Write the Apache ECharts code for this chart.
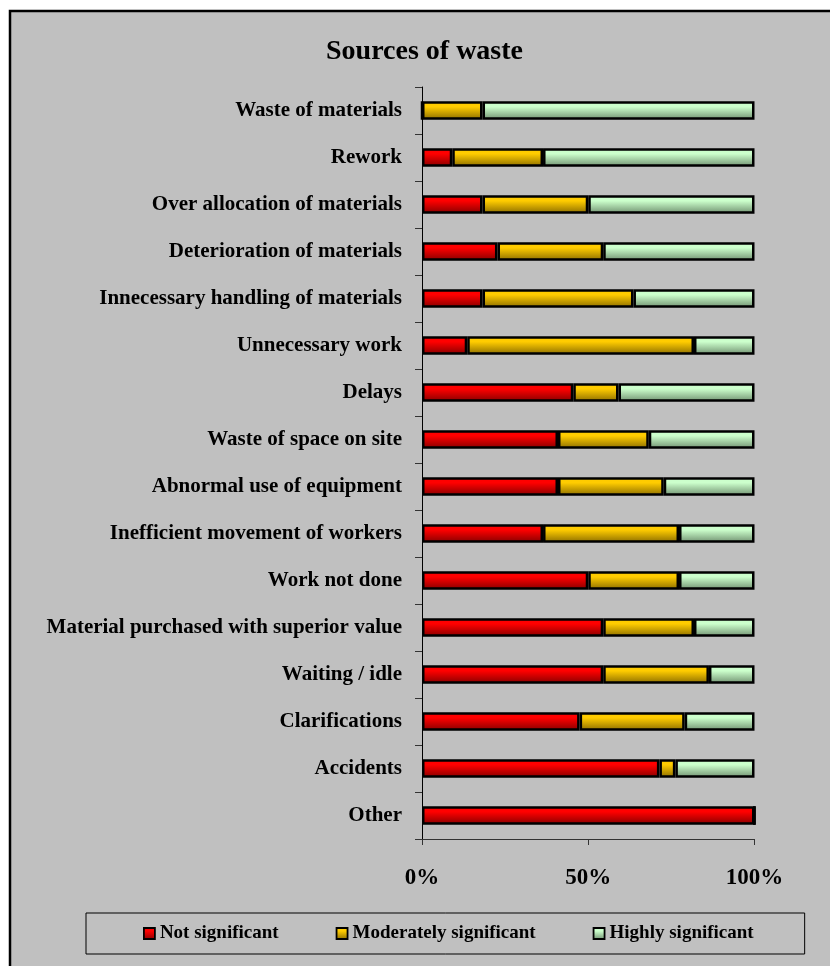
<!DOCTYPE html>
<html>
<head>
<meta charset="utf-8">
<title>Sources of waste</title>
<script src="https://cdn.jsdelivr.net/npm/echarts@6/dist/echarts.min.js"></script>
<style>
  html, body { margin: 0; padding: 0; background: #ffffff; }
  #chart { width: 830px; height: 966px; }
</style>
</head>
<body>
<div id="chart"></div>
<script>
// Sources of waste, share of responses per significance level (%)
const categories = [
  'Waste of materials',
  'Rework',
  'Over allocation of materials',
  'Deterioration of materials',
  'Innecessary handling of materials',
  'Unnecessary work',
  'Delays',
  'Waste of space on site',
  'Abnormal use of equipment',
  'Inefficient movement of workers',
  'Work not done',
  'Material purchased with superior value',
  'Waiting / idle',
  'Clarifications',
  'Accidents',
  'Other'
];
const notSignificant =        [0,    9.1, 18.2, 22.7, 18.2, 13.6, 45.5, 40.9, 40.9, 36.4, 50,   54.5, 54.5, 47.4, 71.4, 100];
const moderatelySignificant = [18.2, 27.3, 31.8, 31.8, 45.4, 68.2, 13.6, 27.3, 31.8, 40.9, 27.3, 27.3, 31.8, 31.6, 4.8,  0];
const highlySignificant =     [81.8, 63.6, 50,   45.5, 36.4, 18.2, 40.9, 31.8, 27.3, 22.7, 22.7, 18.2, 13.7, 21.0, 23.8, 0];
const seriesNames = ['Not significant', 'Moderately significant', 'Highly significant'];
const axisTicks = [0, 50, 100];

const FONT = "'Liberation Serif', 'Times New Roman', serif";

function shade(top, bottom) {
  return new echarts.graphic.LinearGradient(0, 0, 0, 1, [
    { offset: 0, color: top },
    { offset: 0.3, color: top },
    { offset: 1, color: bottom }
  ]);
}

const fills = [
  shade('#ff0000', '#850000'),
  shade('#ffcc00', '#8a6c00'),
  shade('#ccffcc', '#6f8f6f')
];

const values = [notSignificant, moderatelySignificant, highlySignificant];

const chart = echarts.init(document.getElementById('chart'), null, { renderer: 'canvas' });

chart.setOption({
  animation: false,
  backgroundColor: '#ffffff',
  graphic: [{
    type: 'rect',
    z: -10,
    silent: true,
    shape: { x: 10, y: 11, width: 840, height: 980 },
    style: { fill: '#c0c0c0', stroke: '#000000', lineWidth: 2.5 }
  }],
  title: {
    text: 'Sources of waste',
    left: 326,
    top: 38,
    padding: 0,
    textStyle: { fontFamily: FONT, fontSize: 28, fontWeight: 'bold', color: '#000' }
  },
  legend: {
    data: seriesNames,
    left: 86,
    top: 913,
    orient: 'horizontal',
    padding: [11, 51, 11, 57],
    itemGap: 57,
    itemWidth: 11,
    itemHeight: 11,
    borderColor: '#000',
    borderWidth: 1,
    backgroundColor: 'transparent',
    icon: 'rect',
    itemStyle: { borderColor: '#000', borderWidth: 1.8 },
    textStyle: { fontFamily: FONT, fontSize: 19, fontWeight: 'bold', color: '#000', lineHeight: 19 }
  },
  grid: { left: 422, right: 75.5, top: 87, bottom: 127, containLabel: false },
  xAxis: {
    type: 'value',
    min: axisTicks[0],
    max: axisTicks[axisTicks.length - 1],
    interval: axisTicks[1] - axisTicks[0],
    axisLine: { show: true, lineStyle: { color: '#333', width: 1 } },
    axisTick: { show: true, length: 6, lineStyle: { color: '#333', width: 1 } },
    splitLine: { show: false },
    axisLabel: {
      margin: 28,
      formatter: '{value}%',
      fontFamily: FONT, fontSize: 23, fontWeight: 'bold', color: '#000'
    }
  },
  yAxis: {
    type: 'category',
    inverse: true,
    data: categories,
    axisLine: { show: true, lineStyle: { color: '#000', width: 1 } },
    axisTick: { show: true, length: 7, lineStyle: { color: '#333', width: 1 } },
    axisLabel: {
      margin: 20,
      fontFamily: FONT, fontSize: 21, fontWeight: 'bold', color: '#000'
    }
  },
  series: seriesNames.map((name, i) => ({
    name: name,
    type: 'bar',
    stack: 'share',
    barWidth: 18.5,
    data: values[i],
    itemStyle: { color: fills[i], borderColor: '#000', borderWidth: 2.5 },
    emphasis: { disabled: true }
  }))
});
</script>
</body>
</html>
